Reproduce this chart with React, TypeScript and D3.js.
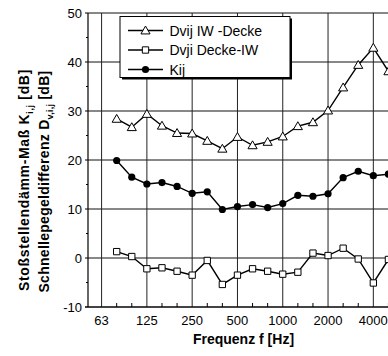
import React, { useEffect, useRef } from "react";
import * as d3 from "d3";

// third-octave bands, 80 Hz .. 5000 Hz
const bands = ["80", "100", "125", "160", "200", "250", "315", "400", "500", "630", "800", "1000", "1250", "1600", "2000", "2500", "3150", "4000", "5000"];
const octaveLabels = ["63", "125", "250", "500", "1000", "2000", "4000"];
const allBands = ["50", "63", ...bands, "6300"];

const dvijIwDecke = [28.4, 26.7, 29.4, 27.0, 25.5, 25.4, 23.9, 22.3, 24.7, 23.0, 23.7, 24.8, 26.9, 27.7, 30.1, 34.8, 39.4, 42.9, 38.1];
const dvjiDeckeIw = [1.3, 0.3, -2.2, -2.0, -2.7, -3.5, -0.5, -5.4, -3.5, -2.2, -2.7, -3.3, -2.9, 1.0, 0.5, 2.0, -0.2, -5.1, -0.3];
const kij = [19.9, 16.5, 15.1, 15.4, 14.6, 13.2, 13.5, 9.9, 10.5, 10.9, 10.3, 11.1, 12.8, 12.6, 13.1, 16.4, 17.7, 16.8, 17.1];

const yTicks = [-10, 0, 10, 20, 30, 40, 50];
const yMinor = [-5, 5, 15, 25, 35, 45];

const W = 388;
const H = 356;
const font = "'Liberation Sans', Arial, Helvetica, sans-serif";

const App = () => {
  const ref = useRef<SVGSVGElement | null>(null);

  useEffect(() => {
    const svg = d3.select(ref.current);
    svg.selectAll("*").remove();

    const margin = { top: 13, left: 88, bottom: 307, right: 399 };

    // x: index of the third-octave band (63 Hz = 1)
    const bandIndex = (f: string) => allBands.indexOf(f);
    const x = d3.scaleLinear().domain([0.1, 20.7]).range([margin.left, margin.right]);
    const y = d3.scaleLinear().domain([-10, 50]).range([margin.bottom, margin.top]);

    // gridlines
    svg.append("g")
      .selectAll("line")
      .data(yTicks)
      .join("line")
      .attr("x1", margin.left).attr("x2", margin.right)
      .attr("y1", d => y(d)).attr("y2", d => y(d))
      .attr("stroke", "#111").attr("stroke-width", 1);

    svg.append("g")
      .selectAll("line")
      .data(octaveLabels)
      .join("line")
      .attr("x1", d => x(bandIndex(d))).attr("x2", d => x(bandIndex(d)))
      .attr("y1", margin.top).attr("y2", margin.bottom)
      .attr("stroke", "#222").attr("stroke-width", 1);

    // axes lines
    svg.append("line")
      .attr("x1", margin.left).attr("x2", margin.left)
      .attr("y1", margin.top).attr("y2", margin.bottom)
      .attr("stroke", "#000").attr("stroke-width", 1.2);
    svg.append("line")
      .attr("x1", margin.left - 3).attr("x2", margin.right)
      .attr("y1", margin.bottom).attr("y2", margin.bottom)
      .attr("stroke", "#000").attr("stroke-width", 1.2);

    // y ticks
    svg.append("g")
      .selectAll("line")
      .data(yTicks)
      .join("line")
      .attr("x1", margin.left - 3).attr("x2", margin.left)
      .attr("y1", d => y(d)).attr("y2", d => y(d))
      .attr("stroke", "#000");
    svg.append("g")
      .selectAll("line")
      .data(yMinor)
      .join("line")
      .attr("x1", margin.left - 2).attr("x2", margin.left)
      .attr("y1", d => y(d)).attr("y2", d => y(d))
      .attr("stroke", "#000");

    // x minor ticks (inside)
    svg.append("g")
      .selectAll("line")
      .data(allBands.filter(f => !octaveLabels.includes(f) && f !== "50" && f !== "6300"))
      .join("line")
      .attr("x1", d => x(bandIndex(d))).attr("x2", d => x(bandIndex(d)))
      .attr("y1", margin.bottom - 4).attr("y2", margin.bottom)
      .attr("stroke", "#000");

    // tick labels
    svg.append("g")
      .selectAll("text")
      .data(yTicks)
      .join("text")
      .attr("x", margin.left - 6)
      .attr("y", d => y(d))
      .attr("dy", "0.36em")
      .attr("text-anchor", "end")
      .attr("font-family", font)
      .attr("font-size", 13)
      .text(d => d);

    svg.append("g")
      .selectAll("text")
      .data(octaveLabels)
      .join("text")
      .attr("x", d => x(bandIndex(d)))
      .attr("y", 324.5)
      .attr("text-anchor", "middle")
      .attr("font-family", font)
      .attr("font-size", 13)
      .text(d => d);

    // axis titles
    svg.append("text")
      .attr("x", 243.5).attr("y", 344)
      .attr("text-anchor", "middle")
      .attr("font-family", font)
      .attr("font-size", 14)
      .attr("font-weight", "bold")
      .text("Frequenz f [Hz]");

    // two rotated y titles, stretched to the reference length
    const yTitle = (cx: number, cy: number, main: string, sub: string) => {
      const t = svg.append("text")
        .attr("transform", `translate(${cx},${cy}) rotate(-90)`)
        .attr("text-anchor", "middle")
        .attr("font-family", font)
        .attr("font-size", 14)
        .attr("font-weight", "bold");
      t.append("tspan").text(main);
      t.append("tspan").attr("dy", 4).attr("font-size", 9).text(sub);
      t.append("tspan").attr("dy", -4).text(" [dB]");
      const node = t.node() as SVGTextElement;
      const len = node.getBBox().width;
      const n = (main + sub + " [dB]").length;
      t.attr("letter-spacing", (222 - len) / n);
    };
    yTitle(29, 180, "Stoßstellendämm-Maß K", "i,j");
    yTitle(49, 181.5, "Schnellepegeldifferenz D", "v,i,j");

    // series
    const line = d3.line<number>()
      .x((_, i) => x(bandIndex(bands[i])))
      .y(d => y(d));

    const tri = d3.symbol().type(d3.symbolTriangle).size(36);
    const sq = d3.symbol().type(d3.symbolSquare).size(40);

    const series = [
      { values: dvijIwDecke, marker: "tri" },
      { values: dvjiDeckeIw, marker: "sq" },
      { values: kij, marker: "dot" },
    ];

    series.forEach(s => {
      svg.append("path")
        .datum(s.values)
        .attr("d", line)
        .attr("fill", "none")
        .attr("stroke", "#000")
        .attr("stroke-width", 1.4);
      const g = svg.append("g");
      if (s.marker === "dot") {
        g.selectAll("circle")
          .data(s.values)
          .join("circle")
          .attr("cx", (_, i) => x(bandIndex(bands[i])))
          .attr("cy", d => y(d))
          .attr("r", 3.6)
          .attr("fill", "#000");
      } else {
        g.selectAll("path")
          .data(s.values)
          .join("path")
          .attr("transform", (d, i) => `translate(${x(bandIndex(bands[i]))},${y(d) + (s.marker === "tri" ? 0.8 : 0)})`)
          .attr("d", s.marker === "tri" ? tri : sq)
          .attr("fill", "#fff")
          .attr("stroke", "#000")
          .attr("stroke-width", 1);
      }
    });

    // legend
    const lg = svg.append("g");
    const lx = 120, ly = 16.5, lw = 170, lh = 61;
    lg.append("rect")
      .attr("x", lx + 2).attr("y", ly + 2).attr("width", lw).attr("height", lh)
      .attr("fill", "#000");
    lg.append("rect")
      .attr("x", lx).attr("y", ly).attr("width", lw).attr("height", lh)
      .attr("fill", "#fff").attr("stroke", "#000").attr("stroke-width", 1);

    const legendNames = ["Dvij IW -Decke", "Dvji Decke-IW", "Kij"];
    const legendMarkers = ["tri", "sq", "dot"];
    legendNames.forEach((name, i) => {
      const cy = 30.5 + i * 19.5;
      lg.append("line")
        .attr("x1", 128).attr("x2", 163)
        .attr("y1", cy).attr("y2", cy)
        .attr("stroke", "#000").attr("stroke-width", 1.4);
      if (legendMarkers[i] === "dot") {
        lg.append("circle").attr("cx", 145.5).attr("cy", cy).attr("r", 3.6).attr("fill", "#000");
      } else {
        lg.append("path")
          .attr("transform", `translate(145.5,${cy + (legendMarkers[i] === "tri" ? 0.8 : 0)})`)
          .attr("d", legendMarkers[i] === "tri" ? tri : sq)
          .attr("fill", "#fff").attr("stroke", "#000");
      }
      lg.append("text")
        .attr("x", 169.5).attr("y", cy)
        .attr("dy", "0.36em")
        .attr("font-family", font)
        .attr("font-size", 14)
        .text(name);
    });
  }, []);

  return (
    <svg
      ref={ref}
      width={W}
      height={H}
      style={{ position: "absolute", left: 0, top: 0, background: "#fff" }}
    ></svg>
  );
};

export default App;
